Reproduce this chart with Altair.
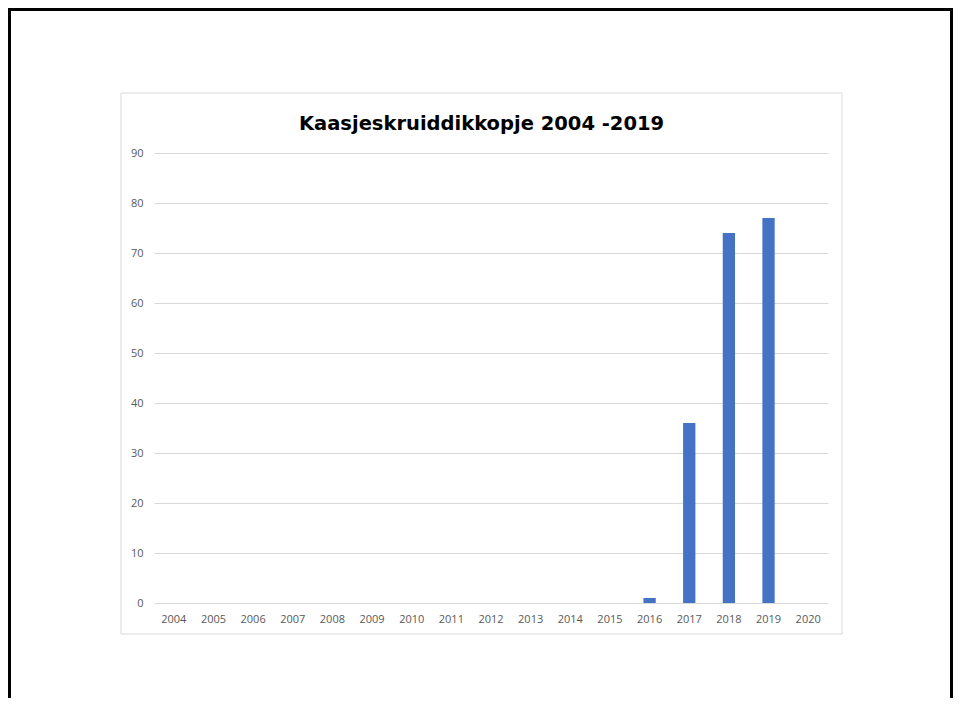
import altair as alt
import pandas as pd

years = [str(y) for y in range(2004, 2021)]
counts = [0, 0, 0, 0, 0, 0, 0, 0, 0, 0, 0, 0, 1, 36, 74, 77, 0]
title_text = "Kaasjeskruiddikkopje 2004 -2019"
y_ticks = [0, 10, 20, 30, 40, 50, 60, 70, 80, 90]

df = pd.DataFrame({"year": years, "count": counts})

W, H = 674, 450

bars = alt.Chart(df).mark_bar(color="#4472C4").encode(
    x=alt.X("year:N", sort=years,
            scale=alt.Scale(paddingInner=0.69, paddingOuter=0.345),
            axis=alt.Axis(title=None, labelAngle=0, ticks=False, domain=False,
                          labelColor="#595959", labelFont="Open Sans",
                          labelFontSize=11, labelPadding=10, grid=False)),
    y=alt.Y("count:Q", scale=alt.Scale(domain=[0, 90], nice=False),
            axis=alt.Axis(title=None, values=y_ticks, ticks=False, domain=False,
                          labelColor="#595959", labelFont="Open Sans",
                          labelFontSize=11, labelPadding=11,
                          gridColor="#d9d9d9", gridWidth=1)),
)

deco = pd.DataFrame({"k": [0]})

chart_box = alt.Chart(deco).mark_rect(fill=None, stroke="#d9d9d9", strokeWidth=1).encode(
    x=alt.value(-33), x2=alt.value(688), y=alt.value(-60), y2=alt.value(481)
)

frame_left = alt.Chart(deco).mark_rule(color="black", strokeWidth=3).encode(
    x=alt.value(-144.5), y=alt.value(-145), y2=alt.value(545)
)
frame_top = alt.Chart(deco).mark_rule(color="black", strokeWidth=3).encode(
    x=alt.value(-146), x2=alt.value(799), y=alt.value(-143.5)
)
frame_right = alt.Chart(deco).mark_rule(color="black", strokeWidth=3).encode(
    x=alt.value(797.5), y=alt.value(-145), y2=alt.value(545)
)

title = alt.Chart(pd.DataFrame({"t": [title_text]})).mark_text(
    font="DejaVu Sans", fontSize=19.5, fontWeight="bold", color="#000000",
    align="center", baseline="middle"
).encode(text="t:N", x=alt.value(327.5), y=alt.value(-29))

chart = alt.layer(chart_box, frame_left, frame_top, frame_right, bars, title).properties(
    width=W, height=H,
    padding={"left": 146, "top": 145, "right": 125, "bottom": 95},
    autosize=alt.AutoSizeParams(type="none"),
).configure_view(stroke=None)

chart.save("out.html", embed_options={"renderer": "svg", "actions": False})
